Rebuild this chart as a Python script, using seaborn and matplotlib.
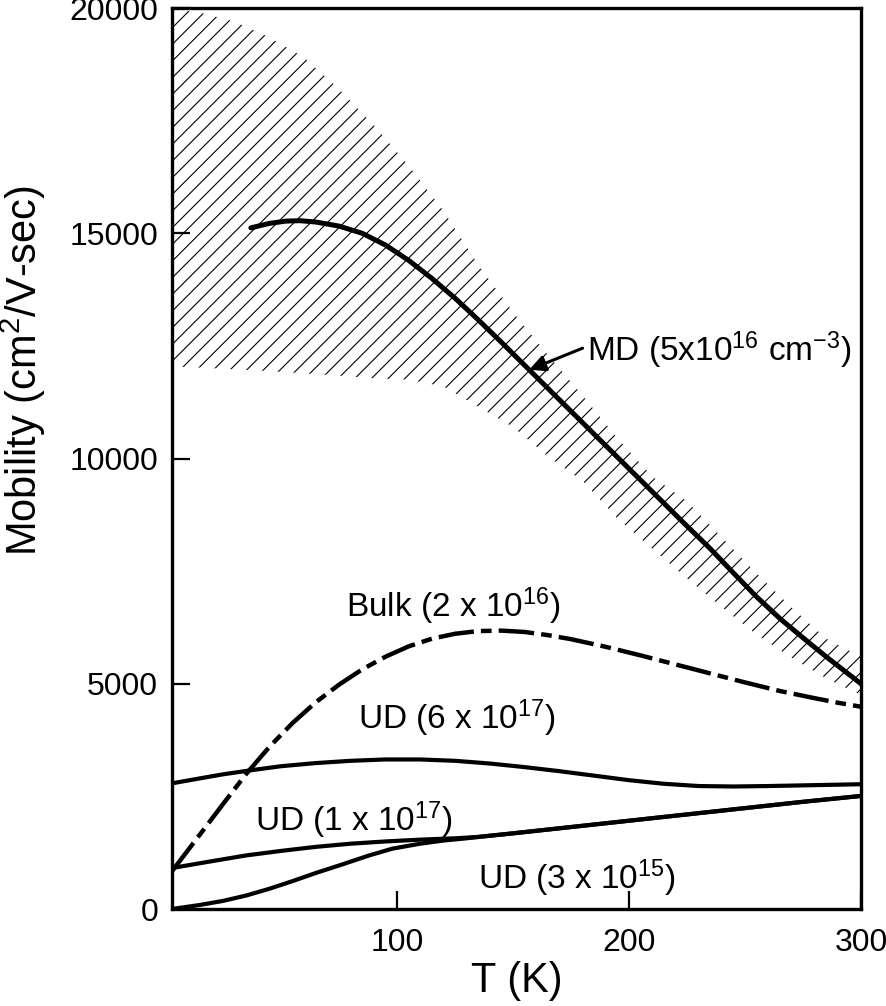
import matplotlib
matplotlib.use("Agg")
import matplotlib.pyplot as plt
import seaborn as sns
import pandas as pd

# ---------------- data ----------------
band_x = [0, 15, 30, 45, 60, 75, 90, 105, 120, 135, 150, 165, 180, 195, 210, 225, 240, 255, 270, 285, 300]
band_upper = [20000, 19900, 19700, 19350, 18900, 18200, 17400, 16500, 15500, 14300, 13250, 12300,
              11400, 10450, 9600, 9050, 8250, 7450, 6700, 6000, 5600]
band_lower = [12050, 12020, 11980, 11940, 11890, 11840, 11780, 11750, 11600, 11150, 10700, 10050,
              9500, 8670, 8000, 7340, 6700, 6090, 5580, 5120, 4750]

md_x = [37, 45, 52, 58, 65, 75, 85, 95, 105, 115, 125, 135, 145, 155, 165, 175, 185, 195, 205,
        215, 225, 235, 245, 255, 265, 275, 285, 295, 300]
md_y = [15120, 15220, 15270, 15280, 15250, 15160, 15000, 14740, 14400, 14000, 13560, 13080, 12580,
        12070, 11560, 11050, 10540, 10030, 9520, 9010, 8500, 8000, 7460, 6930, 6450, 6020, 5600,
        5200, 5000]

bulk_x = [3, 15, 25, 35, 45, 55, 65, 75, 85, 95, 105, 115, 125, 135, 145, 155, 165, 175, 190,
          205, 220, 235, 250, 265, 280, 290, 300]
bulk_y = [840, 1650, 2330, 3000, 3600, 4130, 4590, 4980, 5320, 5600, 5830, 6000, 6110, 6170, 6180,
          6150, 6080, 5990, 5820, 5630, 5430, 5230, 5030, 4840, 4680, 4580, 4490]

ud617_x = [3, 15, 25, 37, 50, 65, 80, 95, 110, 125, 140, 155, 170, 185, 200, 215, 230, 245, 260,
           280, 300]
ud617_y = [2790, 2900, 2990, 3080, 3170, 3240, 3290, 3320, 3320, 3290, 3230, 3150, 3060, 2960, 2860,
           2780, 2730, 2720, 2730, 2750, 2770]

ud117_x = [3, 20, 35, 50, 65, 80, 95, 110, 125, 135, 150, 175, 200, 225, 250, 275, 300]
ud117_y = [910, 1060, 1190, 1290, 1380, 1450, 1500, 1540, 1570, 1600, 1680, 1820, 1960, 2100, 2240,
           2380, 2510]

ud315_x = [3, 15, 25, 35, 45, 55, 65, 77, 88, 98, 110, 120, 130, 135, 150, 175, 200, 225, 250, 275, 300]
ud315_y = [0, 90, 180, 300, 450, 620, 800, 1000, 1190, 1340, 1450, 1520, 1570, 1600, 1680, 1820, 1960,
           2100, 2240, 2380, 2510]

x_ticks = [100, 200, 300]
y_ticks = [0, 5000, 10000, 15000, 20000]

labels = {
    "bulk": (78, 6480, "Bulk (2 x 10$^{16}$)"),
    "ud617": (83, 4000, "UD (6 x 10$^{17}$)"),
    "ud117": (39, 1730, "UD (1 x 10$^{17}$)"),
    "ud315": (135, 444, "UD (3 x 10$^{15}$)"),
    "md": (182, 12170, "MD (5x10$^{16}$ cm$^{-3}$)"),
}
md_arrow_tail = (180, 12450)
md_arrow_head = (157, 11970)

# ---------------- style ----------------
sns.set_theme(style="ticks")
plt.rcParams["font.family"] = ["Liberation Sans", "DejaVu Sans"]
plt.rcParams["mathtext.fontset"] = "custom"
plt.rcParams["mathtext.rm"] = "Liberation Sans"
plt.rcParams["mathtext.it"] = "Liberation Sans:italic"
plt.rcParams["mathtext.bf"] = "Liberation Sans:bold"
plt.rcParams["hatch.linewidth"] = 0.8
plt.rcParams["hatch.color"] = "black"

fig = plt.figure(figsize=(8.86, 10.06), dpi=100)
ax = fig.add_axes([0.1941, 0.0964, 0.9718 - 0.1941, 0.992 - 0.0964])

# hatched band
ax.fill_between(band_x, band_lower, band_upper, facecolor="none", edgecolor="black",
                hatch="//", linewidth=0)

def draw(xs, ys, lw):
    df = pd.DataFrame({"x": xs, "y": ys})
    sns.lineplot(data=df, x="x", y="y", ax=ax, color="black", linewidth=lw,
                 sort=False, estimator=None, legend=False)
    line = ax.lines[-1]
    line.set_solid_joinstyle("round")
    return line

draw(md_x, md_y, 3.6)
bl = draw(bulk_x, bulk_y, 3.2)
bl.set_dashes((8, 1.6, 2.4, 1.6))
draw(ud617_x, ud617_y, 3.0)
draw(ud117_x, ud117_y, 3.0)
draw(ud315_x, ud315_y, 3.0)

for key, (tx, ty, s) in labels.items():
    ax.text(tx, ty, s, fontsize=24, ha="left", va="baseline", color="black")

ax.annotate("", xy=md_arrow_head, xytext=md_arrow_tail,
            arrowprops=dict(arrowstyle="-|>", color="black", lw=2.2, mutation_scale=24,
                            shrinkA=0, shrinkB=0))

ax.set_xlim(3, 300)
ax.set_ylim(0, 20000)
ax.set_xticks(x_ticks)
ax.set_yticks(y_ticks)
ax.set_xticklabels([str(v) for v in x_ticks])
ax.set_yticklabels([str(v) for v in y_ticks])
ax.tick_params(axis="both", direction="in", length=13, width=1.6, labelsize=23, colors="black")
ax.tick_params(axis="x", pad=14)
ax.tick_params(axis="y", pad=10)
for sp in ax.spines.values():
    sp.set_linewidth(2.4)
    sp.set_color("black")
    sp.set_visible(True)

ax.set_xlabel("T (K)", fontsize=30, labelpad=2, color="black")
ax.set_ylabel("Mobility (cm$^2$/V-sec)", fontsize=30, color="black")
ax.yaxis.set_label_coords(-0.18, 0.598)
ax.grid(False)

fig.savefig("out.png", dpi=100, facecolor="white")
